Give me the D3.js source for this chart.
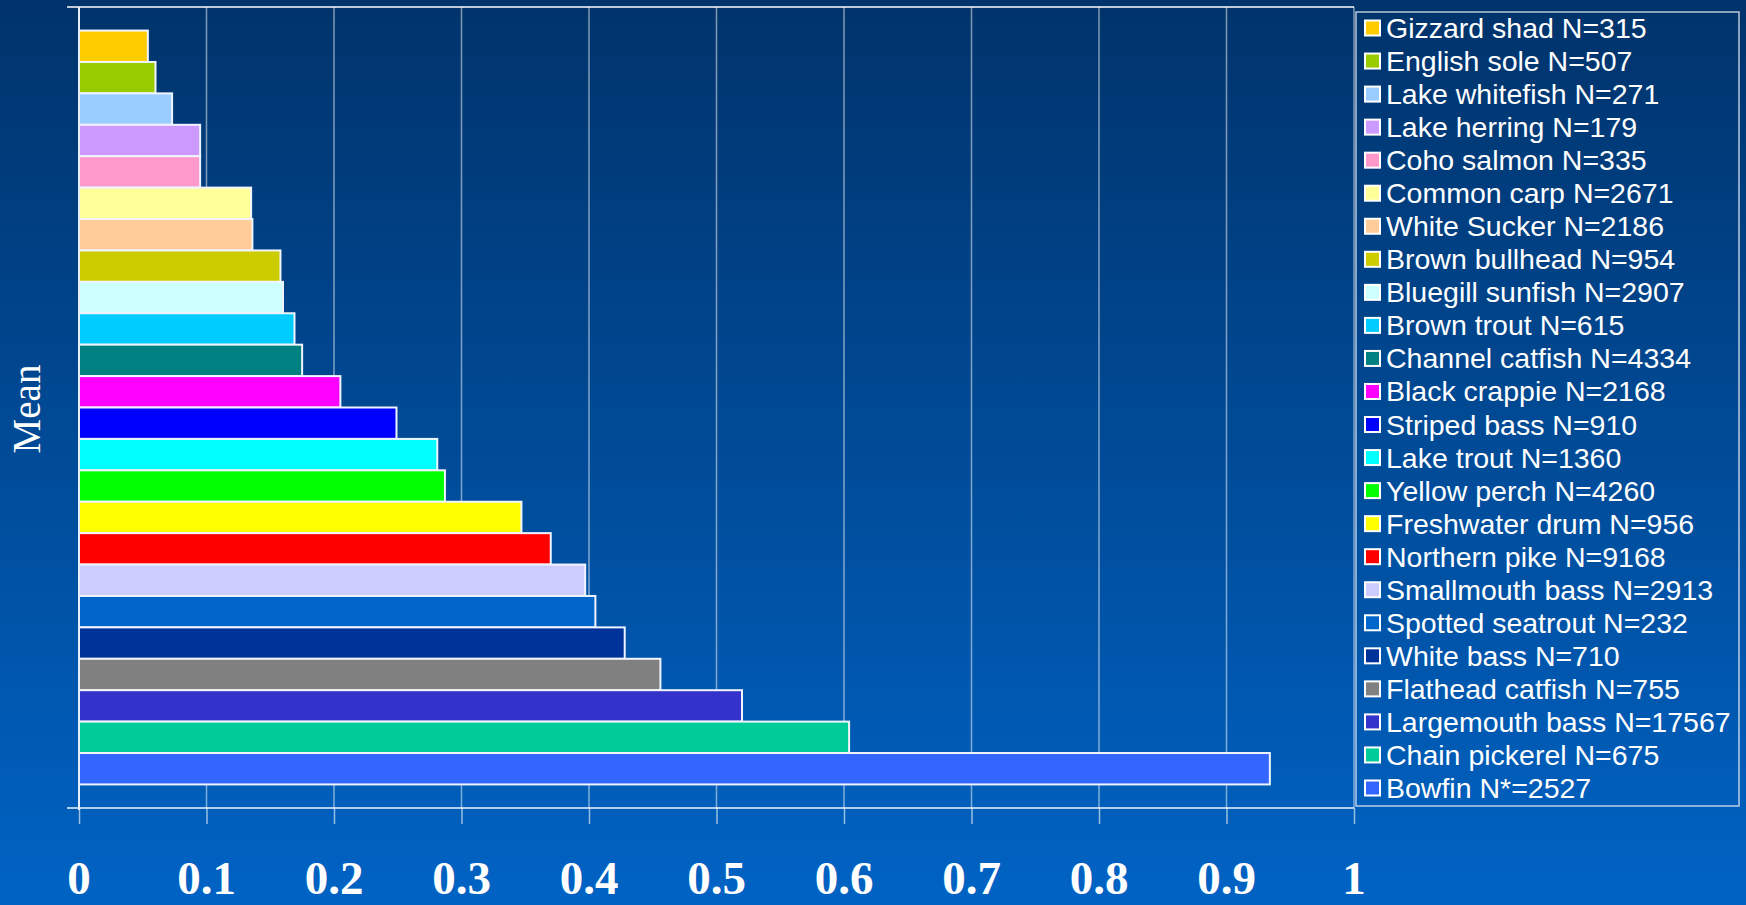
<!DOCTYPE html>
<html><head><meta charset="utf-8">
<script src="https://cdn.jsdelivr.net/npm/d3@7"></script>
<style>html,body{margin:0;padding:0;overflow:hidden;}svg{display:block;}</style>
</head><body>
<svg id="chart" width="1746" height="905"></svg>
<script>
const species = ["Gizzard shad N=315","English sole N=507","Lake whitefish N=271","Lake herring N=179","Coho salmon N=335","Common carp N=2671","White Sucker N=2186","Brown bullhead N=954","Bluegill sunfish N=2907","Brown trout N=615","Channel catfish N=4334","Black crappie N=2168","Striped bass N=910","Lake trout N=1360","Yellow perch N=4260","Freshwater drum N=956","Northern pike N=9168","Smallmouth bass N=2913","Spotted seatrout N=232","White bass N=710","Flathead catfish N=755","Largemouth bass N=17567","Chain pickerel N=675","Bowfin N*=2527"];
const means = [0.054,0.060,0.073,0.095,0.095,0.135,0.136,0.158,0.160,0.169,0.175,0.205,0.249,0.281,0.287,0.347,0.370,0.397,0.405,0.428,0.456,0.520,0.604,0.934];
const colors = ["#FFCC00","#99CC00","#99CCFF","#CC99FF","#FF99CC","#FFFF99","#FFCC99","#CCCC00","#CCFFFF","#00CCFF","#008080","#FF00FF","#0000FF","#00FFFF","#00FF00","#FFFF00","#FF0000","#CCCCFF","#0066CC","#003399","#808080","#3333CC","#00CC99","#3366FF"];
const xTicks = [0,0.1,0.2,0.3,0.4,0.5,0.6,0.7,0.8,0.9,1];
const xTickLabels = ["0","0.1","0.2","0.3","0.4","0.5","0.6","0.7","0.8","0.9","1"];
const axisTitle = "Mean";

(function(){
const svg = d3.select("#chart");
const defs = svg.append("defs");
const g = defs.append("linearGradient").attr("id","bg").attr("x1",0).attr("y1",0).attr("x2",0).attr("y2",1);
g.append("stop").attr("offset","0%").attr("stop-color","#00336b");
g.append("stop").attr("offset","100%").attr("stop-color","#0063c4");
svg.append("rect").attr("width",1746).attr("height",905).attr("fill","url(#bg)");

const pL = 79, pR = 1354, pT = 7, pB = 808;
const x = d3.scaleLinear().domain([0,1]).range([pL,pR]);
const y = d3.scaleBand().domain(species).range([pT,pB]).paddingInner(0).paddingOuter(0.75);

// gridlines
svg.append("g").selectAll("line").data(xTicks.slice(1)).join("line")
  .attr("x1",d=>x(d)).attr("x2",d=>x(d)).attr("y1",pT).attr("y2",pB)
  .attr("stroke","rgba(255,255,255,0.5)").attr("stroke-width",1.5);
// top border
svg.append("line").attr("x1",pL-12).attr("x2",pR).attr("y1",pT).attr("y2",pT)
  .attr("stroke","rgba(255,255,255,0.75)").attr("stroke-width",2);

// bars
svg.append("g").selectAll("rect").data(species).join("rect")
  .attr("x",x(0)).attr("y",d=>y(d)).attr("width",(d,i)=>x(means[i])-x(0)).attr("height",y.bandwidth())
  .attr("fill",(d,i)=>colors[i]).attr("stroke","#f0f4ff").attr("stroke-width",2);

// x axis
const xAxis = d3.axisBottom(x).tickValues(xTicks).tickSize(16).tickFormat("");
const ax = svg.append("g").attr("transform",`translate(0,${pB})`).call(xAxis);
ax.select(".domain").attr("stroke","rgba(255,255,255,0.7)").attr("stroke-width",2).attr("d",`M${pL-12},0H${pR}`);
ax.selectAll(".tick line").attr("stroke","rgba(255,255,255,0.6)").attr("stroke-width",1.5);
svg.append("g").selectAll("text").data(xTicks).join("text")
  .attr("x",d=>x(d)).attr("y",894).attr("text-anchor","middle")
  .attr("fill","#fff").attr("font-family","Liberation Serif, Times New Roman, serif")
  .attr("font-weight","bold").attr("font-size",47)
  .text((d,i)=>xTickLabels[i]);

// y axis line
svg.append("line").attr("x1",pL).attr("x2",pL).attr("y1",pT).attr("y2",pB+2)
  .attr("stroke","#e8eef8").attr("stroke-width",2);

// axis title
svg.append("text").attr("transform","translate(40,409) rotate(-90)").attr("text-anchor","middle")
  .attr("fill","#fff").attr("font-family","Liberation Serif, Times New Roman, serif")
  .attr("font-size",39).text(axisTitle);

// legend
svg.append("rect").attr("x",1356).attr("y",12).attr("width",383).attr("height",794)
  .attr("fill","none").attr("stroke","rgba(230,235,245,0.8)").attr("stroke-width",1.5);
const rowY = d3.scalePoint().domain(species).range([28,788]);
const lg = svg.append("g").selectAll("g").data(species).join("g")
  .attr("transform",d=>`translate(1365,${rowY(d)})`);
lg.append("rect").attr("x",0).attr("y",-7.5).attr("width",15).attr("height",15)
  .attr("fill",(d,i)=>colors[i]).attr("stroke","#fff").attr("stroke-width",2);
lg.append("text").attr("x",21).attr("y",10).attr("fill","#fff")
  .attr("font-family","Liberation Sans, Arial, sans-serif").attr("font-size",28.5)
  .text(d=>d);
})();
</script>
</body></html>
